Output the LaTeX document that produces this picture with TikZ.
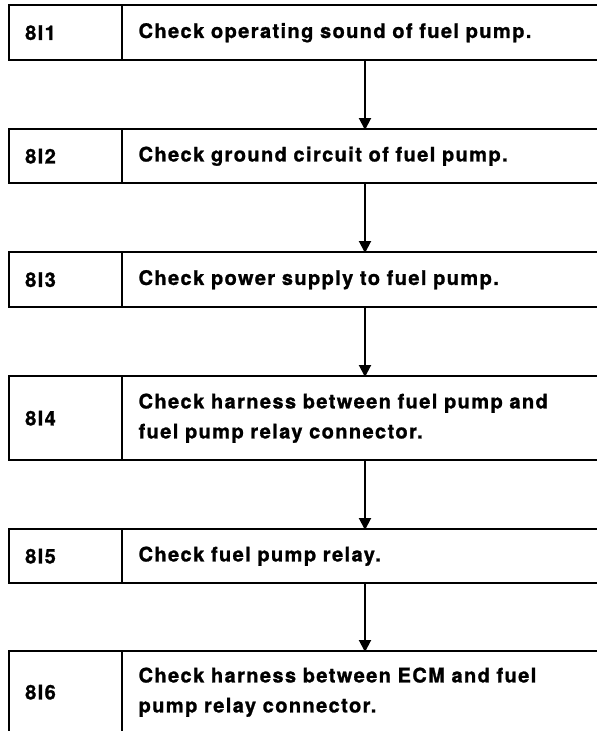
\documentclass[tikz,border=0pt]{standalone}
\usepackage{fontspec}
\newfontfamily\hb[LetterSpace=7,BoldFeatures={FakeBold=1.2}]{TeX Gyre Heros}
\usetikzlibrary{arrows.meta}
\begin{document}
\begin{tikzpicture}[x=1pt,y=-1pt,
  border/.style={line width=2pt, line cap=rect},
  labelcell/.style={anchor=north west, inner xsep=16pt, inner ysep=0pt, text width=81pt, align=left,
    font=\hb\bfseries\fontsize{20}{30}\selectfont},
  textcell/.style={anchor=north west, inner xsep=16pt, inner ysep=0pt, text width=443pt, align=left,
    font=\hb\bfseries\fontsize{20}{30}\selectfont},
  flow/.style={line width=2pt, -{Triangle[length=12pt,width=12pt]}, shorten >=-1pt}]
\useasboundingbox (0,0) rectangle (597,731);
\coordinate (ax) at (365,0);
% box 1
\node[labelcell, minimum height=55pt] (n1) at (9,5) {8I1};
\node[textcell, minimum height=55pt] (t1) at (n1.north east) {Check operating sound of fuel pump.};
% box 2
\node[labelcell, minimum height=54pt] (n2) at (9,129) {8I2};
\node[textcell, minimum height=54pt] (t2) at (n2.north east) {Check ground circuit of fuel pump.};
% box 3
\node[labelcell, minimum height=55pt] (n3) at (9,252) {8I3};
\node[textcell, minimum height=55pt] (t3) at (n3.north east) {Check power supply to fuel pump.};
% box 4
\node[labelcell, minimum height=84pt] (n4) at (9,376) {8I4};
\node[textcell, minimum height=84pt] (t4) at (n4.north east) {Check harness between fuel pump and\\fuel pump relay connector.};
% box 5
\node[labelcell, minimum height=54pt] (n5) at (9,529) {8I5};
\node[textcell, minimum height=54pt] (t5) at (n5.north east) {Check fuel pump relay.};
% box 6
\node[labelcell, minimum height=82pt] (n6) at (9,651) {8I6};
\node[textcell, minimum height=82pt] (t6) at (n6.north east) {Check harness between ECM and fuel\\pump relay connector.};
% borders
\foreach \i in {1,...,5}{
  \draw[border] (n\i.north west) rectangle (n\i.south east);
  \draw[border] (t\i.north west) -- (t\i.north east);
  \draw[border] (t\i.south west) -- (t\i.south east);
}
\draw[border] (n6.south west) -- (n6.north west) -- (n6.north east) -- (n6.south east);
\draw[border] (t6.north west) -- (t6.north east);
% arrows
\draw[flow] (t1.south -| ax) -- (t2.north -| ax);
\draw[flow] (t2.south -| ax) -- (t3.north -| ax);
\draw[flow] (t3.south -| ax) -- (t4.north -| ax);
\draw[flow] (t4.south -| ax) -- (t5.north -| ax);
\draw[flow] (t5.south -| ax) -- (t6.north -| ax);
\end{tikzpicture}
\end{document}
